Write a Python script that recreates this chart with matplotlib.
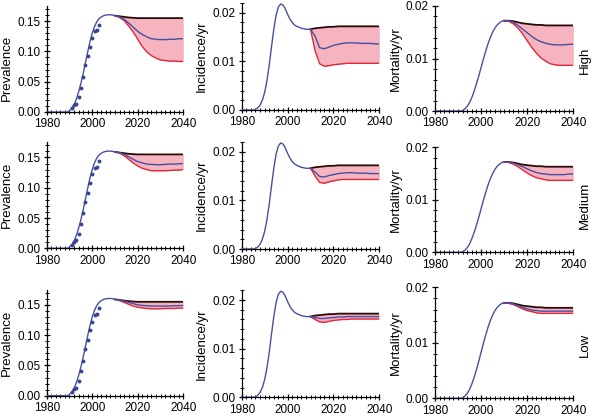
"""
Prevalence, incidence and mortality projections for three scenarios
"""

import matplotlib as mpl
mpl.use("Agg")
import matplotlib.pyplot as plt
from matplotlib.ticker import MultipleLocator, FormatStrFormatter

plt.rcParams["font.family"] = ["Liberation Sans", "DejaVu Sans"]
plt.rcParams["font.size"] = 8

# --- data ---
hist_years = list(range(1980, 2011))
prev_hist = [0, 0, 0, 0, 0, 0, 0, 0, 0, 0,
             0.002, 0.006, 0.012, 0.021, 0.033, 0.047, 0.063, 0.081, 0.099, 0.116,
             0.130, 0.141, 0.149, 0.154, 0.157, 0.159, 0.160, 0.1605, 0.1605, 0.160, 0.159]
inc_hist = [0, 0, 0, 0, 0, 0, 0.0001, 0.0004, 0.0010, 0.0020,
            0.0036, 0.0060, 0.0092, 0.0130, 0.0166, 0.0195, 0.0212, 0.0218, 0.0216, 0.0208,
            0.0197, 0.0187, 0.0180, 0.0175, 0.0172, 0.0170, 0.0168, 0.0167, 0.0166, 0.0166, 0.0166]
mort_hist = [0, 0, 0, 0, 0, 0, 0, 0, 0, 0,
             0, 0, 0.0001, 0.0004, 0.0009, 0.0016, 0.0026, 0.0038, 0.0052, 0.0067,
             0.0083, 0.0099, 0.0114, 0.0128, 0.0140, 0.0150, 0.0158, 0.0164, 0.0168, 0.0171, 0.0172]

obs_years = list(range(1991, 2004))
prev_obs = [0.006, 0.011, 0.013, 0.024, 0.040, 0.058, 0.077, 0.092, 0.108, 0.122, 0.133, 0.135, 0.144]

proj_years = list(range(2010, 2041, 2))

# baseline (no change) projections, same in every scenario
prev_base = [0.159, 0.158, 0.157, 0.156, 0.1555, 0.155, 0.155, 0.155,
             0.155, 0.155, 0.155, 0.155, 0.155, 0.155, 0.155, 0.155]
inc_base = [0.0166, 0.0168, 0.0169, 0.0170, 0.0171, 0.0171, 0.0172, 0.0172,
            0.0172, 0.0172, 0.0172, 0.0172, 0.0172, 0.0172, 0.0172, 0.0172]
mort_base = [0.0172, 0.0172, 0.0171, 0.0169, 0.0167, 0.0166, 0.0165, 0.0164,
             0.0164, 0.0163, 0.0163, 0.0163, 0.0163, 0.0163, 0.0163, 0.0163]

# High
prev_high_mid = [0.159, 0.157, 0.153, 0.147, 0.140, 0.133, 0.128, 0.124,
                 0.121, 0.120, 0.1195, 0.1195, 0.120, 0.120, 0.121, 0.121]
prev_high_low = [0.159, 0.156, 0.151, 0.142, 0.132, 0.120, 0.108, 0.099,
                 0.093, 0.089, 0.086, 0.085, 0.084, 0.084, 0.0835, 0.0835]
inc_high_mid = [0.0166, 0.0152, 0.0128, 0.0126, 0.0129, 0.0133, 0.0135, 0.0137,
                0.0138, 0.0138, 0.0138, 0.0137, 0.0137, 0.0137, 0.0136, 0.0136]
inc_high_low = [0.0166, 0.0122, 0.0095, 0.0090, 0.0091, 0.0093, 0.0094, 0.0095,
                0.0096, 0.0096, 0.0096, 0.0096, 0.0096, 0.0096, 0.0096, 0.0096]
mort_high_mid = [0.0172, 0.0172, 0.0169, 0.0163, 0.0156, 0.0149, 0.0142, 0.0136,
                 0.0132, 0.0129, 0.0127, 0.0126, 0.0126, 0.0126, 0.0127, 0.0127]
mort_high_low = [0.0172, 0.0171, 0.0166, 0.0158, 0.0147, 0.0134, 0.0121, 0.0110,
                 0.0101, 0.0095, 0.0090, 0.0088, 0.0087, 0.0087, 0.0087, 0.0087]

# Medium
prev_med_mid = [0.159, 0.158, 0.155, 0.151, 0.147, 0.143, 0.141, 0.139,
                0.1385, 0.138, 0.138, 0.1385, 0.139, 0.139, 0.1395, 0.140]
prev_med_low = [0.159, 0.157, 0.153, 0.147, 0.141, 0.136, 0.132, 0.130,
                0.128, 0.128, 0.128, 0.128, 0.1285, 0.129, 0.129, 0.130]
inc_med_mid = [0.0166, 0.0158, 0.0149, 0.0148, 0.0151, 0.0153, 0.0155, 0.0156,
               0.0157, 0.0157, 0.0156, 0.0156, 0.0156, 0.0155, 0.0155, 0.0155]
inc_med_low = [0.0166, 0.0150, 0.0137, 0.0135, 0.0138, 0.0140, 0.0142, 0.0143,
               0.0143, 0.0143, 0.0143, 0.0143, 0.0143, 0.0143, 0.0143, 0.0143]
mort_med_mid = [0.0172, 0.0172, 0.0170, 0.0167, 0.0163, 0.0159, 0.0155, 0.0152,
                0.0150, 0.0149, 0.0148, 0.0148, 0.0148, 0.0148, 0.0149, 0.0149]
mort_med_low = [0.0172, 0.0171, 0.0168, 0.0163, 0.0157, 0.0151, 0.0146, 0.0142,
                0.0140, 0.0138, 0.0137, 0.0137, 0.0137, 0.0137, 0.0137, 0.0137]

# Low
prev_low_mid = [0.159, 0.158, 0.156, 0.154, 0.152, 0.150, 0.149, 0.1485,
                0.148, 0.148, 0.148, 0.148, 0.148, 0.1485, 0.1485, 0.149]
prev_low_low = [0.159, 0.157, 0.154, 0.151, 0.148, 0.146, 0.145, 0.144,
                0.1435, 0.1435, 0.1435, 0.144, 0.144, 0.144, 0.1445, 0.1445]
inc_low_mid = [0.0166, 0.0164, 0.0162, 0.0162, 0.0163, 0.0164, 0.0165, 0.0165,
               0.0166, 0.0166, 0.0166, 0.0166, 0.0166, 0.0166, 0.0166, 0.0166]
inc_low_low = [0.0166, 0.0160, 0.0155, 0.0154, 0.0156, 0.0158, 0.0159, 0.0160,
               0.0160, 0.0161, 0.0161, 0.0161, 0.0161, 0.0161, 0.0161, 0.0161]
mort_low_mid = [0.0172, 0.0172, 0.0170, 0.0167, 0.0164, 0.0161, 0.0159, 0.0158,
                0.0157, 0.0157, 0.0157, 0.0157, 0.0157, 0.0157, 0.0157, 0.0157]
mort_low_low = [0.0172, 0.0171, 0.0169, 0.0165, 0.0161, 0.0158, 0.0156, 0.0154,
                0.0153, 0.0153, 0.0153, 0.0153, 0.0153, 0.0153, 0.0153, 0.0153]

scenarios = ["High", "Medium", "Low"]
scenario_series = [
    [(prev_high_mid, prev_high_low), (inc_high_mid, inc_high_low), (mort_high_mid, mort_high_low)],
    [(prev_med_mid, prev_med_low), (inc_med_mid, inc_med_low), (mort_med_mid, mort_med_low)],
    [(prev_low_mid, prev_low_low), (inc_low_mid, inc_low_low), (mort_low_mid, mort_low_low)],
]

# label, history, baseline, ymax, major, minor
measures = [
    ("Prevalence", prev_hist, prev_base, 0.175, 0.05, 0.01),
    ("Incidence/yr", inc_hist, inc_base, 0.022, 0.01, 0.002),
    ("Mortality/yr", mort_hist, mort_base, 0.02, 0.01, 0.002),
]

# --- layout in pixels (600x420 figure) ---
W, H = 600.0, 420.0
col_x = [(46.7, 183.3), (241.7, 379.3), (435.0, 573.3)]
bottoms = [[112, 110, 111], [248.3, 249, 252.3], [395.7, 397.3, 398.3]]
heights = [[106, 107, 105], [106, 107, 105], [106, 107, 111]]
row_label_y = [60, 205, 345]

BLUE = "#4650a2"
RED = "#e3263a"
PINK = "#f6b3c0"
DARK = "#2a0a0a"

fig = plt.figure(figsize=(W / 100, H / 100), dpi=100)

for r, scen in enumerate(scenarios):
    for c, (label, hist, base, ymax, major, minor) in enumerate(measures):
        x0, x1 = col_x[c]
        b, h = bottoms[r][c], heights[r][c]
        ax = fig.add_axes([x0 / W, 1 - b / H, (x1 - x0) / W, h / H])
        mid, low = scenario_series[r][c]

        ax.fill_between(proj_years, low, base, color=PINK, lw=0, zorder=1)
        ax.plot(proj_years, base, color=DARK, lw=1.3, zorder=2)
        ax.plot(proj_years, low, color=RED, lw=1.0, zorder=2)
        ax.plot(hist_years + proj_years[1:], hist + mid[1:], color=BLUE, lw=1.0, zorder=3)
        if c == 0:
            ax.plot(obs_years, prev_obs, "o", color="#3a4592", ms=1.8, zorder=4)

        ax.set_xlim(1980, 2040)
        ax.set_ylim(0, ymax)
        ax.xaxis.set_major_locator(MultipleLocator(20))
        ax.xaxis.set_minor_locator(MultipleLocator(2))
        ax.yaxis.set_major_locator(MultipleLocator(major))
        ax.yaxis.set_minor_locator(MultipleLocator(minor))
        ax.yaxis.set_major_formatter(FormatStrFormatter("%.2f"))
        for side in ("top", "right"):
            ax.spines[side].set_visible(False)
        for side in ("left", "bottom"):
            ax.spines[side].set_linewidth(0.9)
        ax.tick_params(which="major", direction="inout", length=5, width=0.9, labelsize=8.5, pad=2)
        ax.tick_params(which="minor", direction="inout", length=3, width=0.7)
        ax.set_ylabel(label, fontsize=9.5, labelpad=3)
        if c == 0 and r == 0:
            ax.yaxis.label.set_y(0.42)
        ax.patch.set_visible(False)

    fig.text(585 / W, 1 - row_label_y[r] / H, scen, rotation=90, ha="center", va="center", fontsize=9.5)

fig.savefig("out.png", dpi=100)
